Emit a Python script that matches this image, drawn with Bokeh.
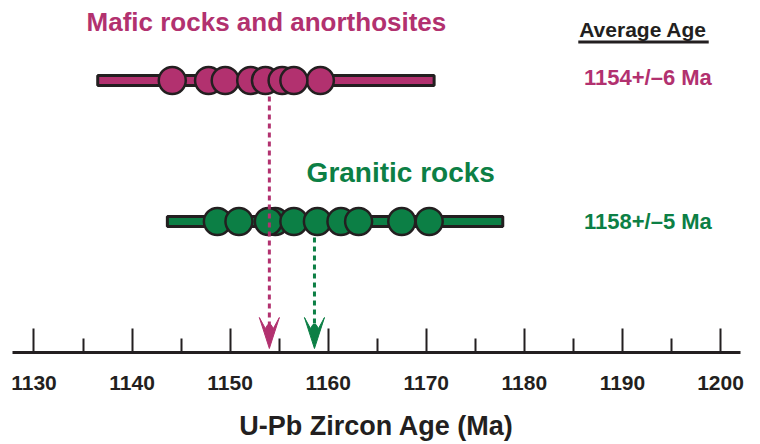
from bokeh.plotting import figure
from bokeh.models import Range1d, FixedTicker, Label
from bokeh.embed import file_html
from bokeh.resources import INLINE

# ---------------- data ----------------
groups = ["Mafic rocks and anorthosites", "Granitic rocks"]
age_labels = ["1154+/\u20136 Ma", "1158+/\u20135 Ma"]
mafic_ages = [1144.1, 1147.8, 1149.5, 1152.1, 1153.6, 1155.3, 1159.2, 1156.5]
granitic_ages = [1154.6, 1148.7, 1150.9, 1153.9, 1156.5, 1158.9, 1161.3, 1163.1, 1167.5, 1170.3]
mafic_range = [1136.5, 1170.8]
granitic_range = [1143.6, 1177.8]
mean_ages = [1154.0, 1158.6]
tick_values = [1130, 1140, 1150, 1160, 1170, 1180, 1190, 1200]
minor_tick_values = [1135, 1145, 1155, 1165, 1175, 1185, 1195]

# ---------------- style / layout ----------------
MAG = "#B2316F"
GRN = "#0C7F45"
INK = "#231F20"
FONT = "Liberation Sans"

X0, X1 = 1127.81, 1202.04
FRAME_W, FRAME_H = 728, 352
PXU = FRAME_W / (X1 - X0)          # pixels per Ma
row_y = [272, 131]                 # vertical position of each group's row (px above axis)
arrow_tip_y = 4

p = figure(width=760, height=444, x_range=Range1d(X0, X1), y_range=Range1d(0, FRAME_H),
           output_backend="svg", toolbar_location=None, y_axis_location=None,
           min_border_left=12, min_border_right=20, min_border_top=0, min_border_bottom=92)
p.outline_line_color = None
p.xgrid.visible = False
p.ygrid.visible = False
p.background_fill_color = "white"

# axis
ax = p.xaxis[0]
ax.ticker = FixedTicker(ticks=tick_values, minor_ticks=minor_tick_values)
ax.axis_line_color = INK
ax.axis_line_width = 3
ax.major_tick_in = 24
ax.major_tick_out = 0
ax.minor_tick_in = 14
ax.minor_tick_out = 0
ax.major_tick_line_color = INK
ax.minor_tick_line_color = INK
ax.major_tick_line_width = 2
ax.minor_tick_line_width = 2
ax.major_label_text_font = FONT
ax.major_label_text_font_style = "bold"
ax.major_label_text_font_size = "21px"
ax.major_label_text_color = INK
ax.major_label_standoff = 23
ax.axis_label = "U-Pb Zircon Age (Ma)"
ax.axis_label_text_font = FONT
ax.axis_label_text_font_style = "bold"
ax.axis_label_text_font_size = "27px"
ax.axis_label_text_color = INK
ax.axis_label_standoff = 18

head_len, head_w, notch, shaft = 31, 10, 20, 24
colors = [MAG, GRN]
ranges = [mafic_range, granitic_range]
ages = [mafic_ages, granitic_ages]

def arrow_head(xc):
    dx = [0, head_w, 4, 1.5, -1.5, -4, -head_w]
    dy = [0, head_len, notch, shaft, shaft, notch, head_len]
    return [xc + d / PXU for d in dx], [arrow_tip_y + d for d in dy]

# rows: bar with circles
for i in [1, 0]:
    y = row_y[i]
    p.hbar(y=[y], left=[ranges[i][0]], right=[ranges[i][1]], height=10,
           fill_color=colors[i], line_color=INK, line_width=3)
    p.scatter(x=ages[i], y=[y] * len(ages[i]), size=27, marker="circle",
              fill_color=colors[i], line_color=INK, line_width=2.5)

# green arrow
p.segment(x0=[mean_ages[1]], y0=[row_y[1] - 16], x1=[mean_ages[1]], y1=[arrow_tip_y + shaft],
          line_color=GRN, line_width=3, line_dash="5 4")
hx, hy = arrow_head(mean_ages[1])
p.patch(hx, hy, fill_color=GRN, line_color=GRN, line_width=1)
# magenta arrow (drawn over the granitic row)
p.segment(x0=[mean_ages[0]], y0=[row_y[0] - 16], x1=[mean_ages[0]], y1=[arrow_tip_y + shaft],
          line_color=MAG, line_width=3, line_dash="5 4")
hx, hy = arrow_head(mean_ages[0])
p.patch(hx, hy, fill_color=MAG, line_color=MAG, line_width=1)

# texts
def lab(x, y, text, color, size, align="center"):
    p.add_layout(Label(x=x, y=y, text=text, text_color=color, text_font=FONT,
                       text_font_style="bold", text_font_size=size,
                       text_align=align, text_baseline="alphabetic"))

lab(1153.7, 330.5, groups[0], MAG, "26px")
lab(1167.4, 180.5, groups[1], GRN, "28px")
lab(1192.1, 323.5, "Average Age", INK, "21px")
p.segment(x0=[1185.5], y0=[310.5], x1=[1198.8], y1=[310.5], line_color=INK, line_width=3)
lab(1192.6, 275.5, age_labels[0], MAG, "22px")
lab(1192.6, 131.5, age_labels[1], GRN, "22px")

open("out.html", "w").write(file_html(p, INLINE))
